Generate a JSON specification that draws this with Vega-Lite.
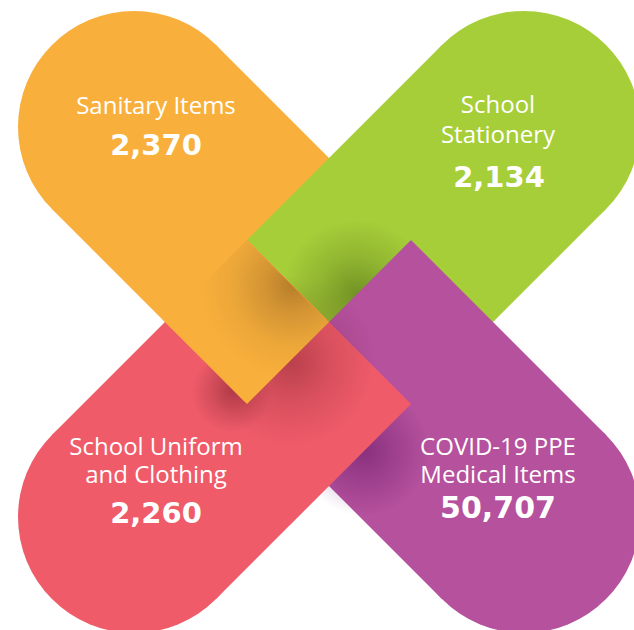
{
  "$schema": "https://vega.github.io/schema/vega-lite/v6.json",
  "width": 634,
  "height": 630,
  "autosize": "none",
  "padding": 0,
  "background": "#ffffff",
  "config": {"view": {"stroke": null}},
  "data": {
    "values": [
      {"category": "Sanitary Items", "label": "Sanitary Items", "value": 2370, "col": -1, "row": -1},
      {"category": "School Stationery", "label": "School\nStationery", "value": 2134, "col": 1, "row": -1},
      {"category": "COVID-19 PPE Medical Items", "label": "COVID-19 PPE\nMedical Items", "value": 50707, "col": 1, "row": 1},
      {"category": "School Uniform and Clothing", "label": "School Uniform\nand Clothing", "value": 2260, "col": -1, "row": 1}
    ]
  },
  "encoding": {
    "x": {"field": "col", "type": "quantitative", "scale": {"domain": [-1, 1], "range": [134, 524], "nice": false, "zero": false}, "axis": null},
    "y": {"field": "row", "type": "quantitative", "scale": {"domain": [-1, 1], "range": [127, 517], "nice": false, "zero": false}, "axis": null}
  },
  "layer": [
    {
      "mark": {"type": "point", "shape": "circle", "filled": true, "size": 53824, "opacity": 1, "strokeWidth": 0},
      "encoding": {"color": {"field": "category", "type": "nominal", "legend": null, "scale": {"domain": ["Sanitary Items", "School Stationery", "COVID-19 PPE Medical Items", "School Uniform and Clothing"], "range": ["#F9AF3B", "#A6CE39", "#B5519D", "#EF5B69"]}}}
    },
    {
      "transform": [{"filter": "datum.category === 'Sanitary Items'"}],
      "mark": {"type": "rule", "strokeWidth": 232, "strokeCap": "butt"},
      "encoding": {"x2": {"datum": 0}, "y2": {"datum": 0}, "color": {"field": "category", "type": "nominal", "legend": null, "scale": {"domain": ["Sanitary Items", "School Stationery", "COVID-19 PPE Medical Items", "School Uniform and Clothing"], "range": ["#F9AF3B", "#A6CE39", "#B5519D", "#EF5B69"]}}}
    },
    {
      "transform": [{"filter": "datum.category === 'School Stationery'"}],
      "mark": {"type": "rule", "strokeWidth": 232, "strokeCap": "butt"},
      "encoding": {"x2": {"datum": 0}, "y2": {"datum": 0}, "color": {"field": "category", "type": "nominal", "legend": null, "scale": {"domain": ["Sanitary Items", "School Stationery", "COVID-19 PPE Medical Items", "School Uniform and Clothing"], "range": ["#F9AF3B", "#A6CE39", "#B5519D", "#EF5B69"]}}}
    },
    {
      "transform": [{"filter": "datum.category === 'COVID-19 PPE Medical Items'"}],
      "mark": {"type": "point", "shape": "circle", "filled": true, "size": 22500, "opacity": 1, "strokeWidth": 0,
        "fill": {"gradient": "radial", "x1": 0.5, "y1": 0.5, "r1": 0, "x2": 0.5, "y2": 0.5, "r2": 0.5,
          "stops": [{"offset": 0, "color": "rgba(20,40,0,0.36)"}, {"offset": 0.5, "color": "rgba(20,40,0,0.15)"}, {"offset": 1, "color": "rgba(20,40,0,0)"}]}},
      "encoding": {"x": {"datum": 0.14}, "y": {"datum": -0.14}}
    },
    {
      "transform": [{"filter": "datum.category === 'COVID-19 PPE Medical Items'"}],
      "mark": {"type": "rule", "strokeWidth": 232, "strokeCap": "butt"},
      "encoding": {"x2": {"datum": 0}, "y2": {"datum": 0}, "color": {"field": "category", "type": "nominal", "legend": null, "scale": {"domain": ["Sanitary Items", "School Stationery", "COVID-19 PPE Medical Items", "School Uniform and Clothing"], "range": ["#F9AF3B", "#A6CE39", "#B5519D", "#EF5B69"]}}}
    },
    {
      "transform": [{"filter": "datum.category === 'School Uniform and Clothing'"}],
      "mark": {"type": "point", "shape": "circle", "filled": true, "size": 16900, "opacity": 1, "strokeWidth": 0,
        "fill": {"gradient": "radial", "x1": 0.5, "y1": 0.5, "r1": 0, "x2": 0.5, "y2": 0.5, "r2": 0.5,
          "stops": [{"offset": 0, "color": "rgba(70,0,80,0.4)"}, {"offset": 1, "color": "rgba(70,0,80,0)"}]}},
      "encoding": {"x": {"datum": 0.18}, "y": {"datum": 0.66}}
    },
    {
      "transform": [{"filter": "datum.category === 'School Uniform and Clothing'"}],
      "mark": {"type": "rule", "strokeWidth": 232, "strokeCap": "butt"},
      "encoding": {"x2": {"datum": 0}, "y2": {"datum": 0}, "color": {"field": "category", "type": "nominal", "legend": null, "scale": {"domain": ["Sanitary Items", "School Stationery", "COVID-19 PPE Medical Items", "School Uniform and Clothing"], "range": ["#F9AF3B", "#A6CE39", "#B5519D", "#EF5B69"]}}}
    },
    {
      "transform": [{"filter": "datum.category === 'Sanitary Items'"}],
      "mark": {"type": "point", "shape": "circle", "filled": true, "size": 28900, "opacity": 1, "strokeWidth": 0,
        "fill": {"gradient": "radial", "x1": 0.5, "y1": 0.5, "r1": 0, "x2": 0.5, "y2": 0.5, "r2": 0.5,
          "stops": [{"offset": 0, "color": "rgba(60,0,10,0.3)"}, {"offset": 0.5, "color": "rgba(60,0,10,0.12)"}, {"offset": 1, "color": "rgba(60,0,10,0)"}]}},
      "encoding": {"x": {"datum": -0.2}, "y": {"datum": 0.2}}
    },
    {
      "transform": [{"filter": "datum.category === 'Sanitary Items'"}],
      "mark": {"type": "point", "shape": "circle", "filled": true, "size": 6400, "opacity": 1, "strokeWidth": 0,
        "fill": {"gradient": "radial", "x1": 0.5, "y1": 0.5, "r1": 0, "x2": 0.5, "y2": 0.5, "r2": 0.5,
          "stops": [{"offset": 0, "color": "rgba(60,0,10,0.3)"}, {"offset": 1, "color": "rgba(60,0,10,0)"}]}},
      "encoding": {"x": {"datum": -0.5}, "y": {"datum": 0.36}}
    },
    {
      "transform": [{"filter": "datum.category === 'Sanitary Items'"}],
      "mark": {"type": "point", "shape": "square", "angle": 45, "filled": true, "size": 13456, "opacity": 1, "strokeWidth": 0},
      "encoding": {"x": {"datum": -0.4333}, "y": {"datum": -0.0128}, "color": {"field": "category", "type": "nominal", "legend": null, "scale": {"domain": ["Sanitary Items", "School Stationery", "COVID-19 PPE Medical Items", "School Uniform and Clothing"], "range": ["#F9AF3B", "#A6CE39", "#B5519D", "#EF5B69"]}}}
    },
    {
      "transform": [{"filter": "datum.category === 'Sanitary Items'"}],
      "mark": {"type": "point", "shape": "square", "angle": 45, "filled": true, "size": 13456, "opacity": 1, "strokeWidth": 0,
        "fill": {"gradient": "radial", "x1": 0.55, "y1": 0.0, "r1": 0, "x2": 0.55, "y2": 0.0, "r2": 0.8,
          "stops": [{"offset": 0, "color": "#B87E2A"}, {"offset": 0.3, "color": "#D39433"}, {"offset": 0.65, "color": "#ECA739"}, {"offset": 1, "color": "#F9AF3B"}]}},
      "encoding": {"x": {"datum": -0.4205}, "y": {"datum": 0}}
    },
    {
      "transform": [{"filter": "datum.category === 'Sanitary Items'"}],
      "mark": {"type": "text", "font": "Open Sans", "fontSize": 24, "color": "#ffffff", "align": "center", "baseline": "alphabetic", "lineBreak": "\n", "lineHeight": 29, "dx": 22, "dy": -13},
      "encoding": {"text": {"field": "label"}}
    },
    {
      "transform": [{"filter": "datum.category === 'School Stationery'"}],
      "mark": {"type": "text", "font": "Open Sans", "fontSize": 24, "color": "#ffffff", "align": "center", "baseline": "alphabetic", "lineBreak": "\n", "lineHeight": 30, "dx": -26, "dy": -14},
      "encoding": {"text": {"field": "label"}}
    },
    {
      "transform": [{"filter": "datum.category === 'School Uniform and Clothing'"}],
      "mark": {"type": "text", "font": "Open Sans", "fontSize": 24, "color": "#ffffff", "align": "center", "baseline": "alphabetic", "lineBreak": "\n", "lineHeight": 28, "dx": 22, "dy": -62},
      "encoding": {"text": {"field": "label"}}
    },
    {
      "transform": [{"filter": "datum.category === 'COVID-19 PPE Medical Items'"}],
      "mark": {"type": "text", "font": "Open Sans", "fontSize": 24, "color": "#ffffff", "align": "center", "baseline": "alphabetic", "lineBreak": "\n", "lineHeight": 28, "dx": -26, "dy": -62},
      "encoding": {"text": {"field": "label"}}
    },
    {
      "transform": [{"filter": "datum.category === 'Sanitary Items'"}],
      "mark": {"type": "text", "font": "DejaVu Sans", "fontSize": 29, "fontWeight": "bold", "color": "#ffffff", "align": "center", "baseline": "alphabetic", "dx": 22, "dy": 28},
      "encoding": {"text": {"field": "value", "type": "quantitative", "format": ","}}
    },
    {
      "transform": [{"filter": "datum.category === 'School Stationery'"}],
      "mark": {"type": "text", "font": "DejaVu Sans", "fontSize": 29, "fontWeight": "bold", "color": "#ffffff", "align": "center", "baseline": "alphabetic", "dx": -25, "dy": 60},
      "encoding": {"text": {"field": "value", "type": "quantitative", "format": ","}}
    },
    {
      "transform": [{"filter": "datum.category === 'School Uniform and Clothing'"}],
      "mark": {"type": "text", "font": "DejaVu Sans", "fontSize": 29, "fontWeight": "bold", "color": "#ffffff", "align": "center", "baseline": "alphabetic", "dx": 22, "dy": 6},
      "encoding": {"text": {"field": "value", "type": "quantitative", "format": ","}}
    },
    {
      "transform": [{"filter": "datum.category === 'COVID-19 PPE Medical Items'"}],
      "mark": {"type": "text", "font": "DejaVu Sans", "fontSize": 30, "fontWeight": "bold", "color": "#ffffff", "align": "center", "baseline": "alphabetic", "dx": -26, "dy": 1},
      "encoding": {"text": {"field": "value", "type": "quantitative", "format": ","}}
    }
  ]
}
